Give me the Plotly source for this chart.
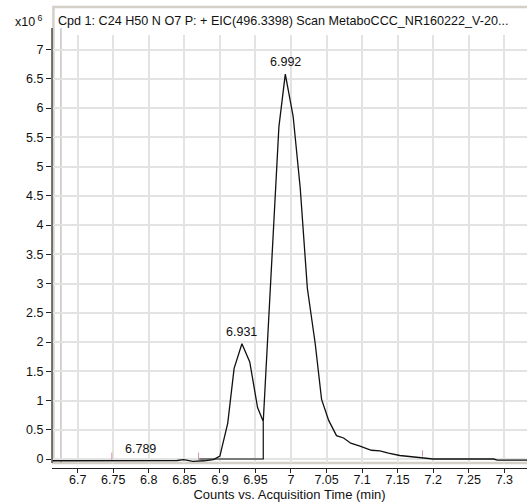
import plotly.graph_objects as go

# ---- data (intensity in x10^6 counts) ----
time_min = [6.665, 6.700, 6.750, 6.800, 6.840, 6.849, 6.862, 6.878, 6.891, 6.900,
            6.911, 6.920, 6.931, 6.942, 6.953, 6.961, 6.983, 6.992, 7.003, 7.013,
            7.023, 7.034, 7.043, 7.053, 7.064, 7.074, 7.084, 7.097, 7.113, 7.125,
            7.137, 7.153, 7.179, 7.200, 7.285, 7.290, 7.332]
counts_e6 = [-0.03, -0.03, -0.03, -0.03, -0.025, -0.01, -0.04, -0.03, -0.01, 0.05,
             0.61, 1.55, 1.97, 1.66, 0.88, 0.64, 5.68, 6.58, 5.86, 4.63,
             2.92, 1.98, 1.02, 0.66, 0.40, 0.36, 0.27, 0.22, 0.15, 0.14,
             0.10, 0.06, 0.03, 0.00, 0.00, -0.02, -0.02]

# integration baseline of the first peak
base_x = [6.871, 6.961, 6.961]
base_y = [0.0, 0.0, 0.64]

# peak start / end markers
mark_x = [6.748, 6.870, 7.185]
mark_lo = [-0.02, -0.02, 0.04]
mark_hi = [0.11, 0.11, 0.15]

# peak labels
peak_x = [6.789, 6.931, 6.992]
peak_y = [-0.03, 1.97, 6.58]
peak_text = ["6.789", "6.931", "6.992"]

x_tick_vals = [6.7, 6.75, 6.8, 6.85, 6.9, 6.95, 7.0, 7.05, 7.1, 7.15, 7.2, 7.25, 7.3]
x_tick_text = ["6.7", "6.75", "6.8", "6.85", "6.9", "6.95", "7", "7.05", "7.1", "7.15", "7.2", "7.25", "7.3"]
y_tick_vals = [0, 0.5, 1, 1.5, 2, 2.5, 3, 3.5, 4, 4.5, 5, 5.5, 6, 6.5, 7]
y_tick_text = ["0", "0.5", "1", "1.5", "2", "2.5", "3", "3.5", "4", "4.5", "5", "5.5", "6", "6.5", "7"]

title_text = "Cpd 1: C24 H50 N O7 P: + EIC(496.3398) Scan MetaboCCC_NR160222_V-20..."
x_title = "Counts vs. Acquisition Time (min)"

FONT = "Liberation Sans, Arial, sans-serif"

fig = go.Figure()

# marker segments
mx, my = [], []
for x, lo, hi in zip(mark_x, mark_lo, mark_hi):
    mx += [x, x, None]
    my += [lo, hi, None]
fig.add_trace(go.Scatter(x=mx, y=my, mode="lines",
                         line=dict(color="#d9959b", width=1), hoverinfo="skip"))

fig.add_trace(go.Scatter(x=base_x, y=base_y, mode="lines",
                         line=dict(color="#111111", width=1.2), hoverinfo="skip"))

fig.add_trace(go.Scatter(x=time_min, y=counts_e6, mode="lines",
                         line=dict(color="#111111", width=1.3)))

for x, y, t in zip(peak_x, peak_y, peak_text):
    fig.add_annotation(x=x, y=y, text=t, showarrow=False, yanchor="bottom",
                       yshift=3, font=dict(family=FONT, size=12.5, color="#111"))

# frame around the panel
fig.add_shape(type="rect", xref="paper", yref="paper",
              x0=0.003, x1=1.01, y0=0.0115, y1=1.0647,
              line=dict(color="#d4d0c8", width=2.5), layer="below")
# vertical gray line near the left edge
fig.add_shape(type="line", xref="x", yref="paper", x0=6.6765, x1=6.6765,
              y0=0.0115, y1=1.016, line=dict(color="#a8a8a8", width=1), layer="below")
# y axis line (extends above the plot area)
fig.add_shape(type="line", xref="paper", yref="paper", x0=0, x1=0,
              y0=0.0115, y1=1.016, line=dict(color="#222", width=1.2))

fig.add_annotation(xref="paper", yref="paper", x=(56 - 52) / 475, y=(468 - 21) / 433,
                   text=title_text, showarrow=False, xanchor="left", yanchor="middle",
                   font=dict(family=FONT, size=12.6, color="#111"))
fig.add_annotation(xref="paper", yref="paper", x=(45 - 52) / 475, y=(468 - 21) / 433,
                   text="x10<sup> 6</sup>", showarrow=False, xanchor="right", yanchor="middle",
                   font=dict(family=FONT, size=12.5, color="#111"))

fig.update_layout(
    width=527, height=503,
    margin=dict(l=52, r=0, t=35, b=35, autoexpand=False),
    paper_bgcolor="white", plot_bgcolor="white",
    showlegend=False,
    font=dict(family=FONT, size=12.5, color="#111"),
    xaxis=dict(range=[6.6639, 7.3319], tickvals=x_tick_vals, ticktext=x_tick_text,
               showgrid=True, gridcolor="#e3e3e3", gridwidth=1.5, zeroline=False,
               showline=True, linecolor="#222", linewidth=1.2,
               ticks="outside", ticklen=4, tickcolor="#222",
               ticklabelstandoff=-4,
               anchor="free", position=0, automargin=False,
               title=dict(text=x_title, font=dict(family=FONT, size=13), standoff=0)),
    yaxis=dict(range=[-0.0684, 7.25], domain=[0.0115, 1], tickvals=y_tick_vals,
               ticktext=y_tick_text, showgrid=True, gridcolor="#e3e3e3", gridwidth=1.5,
               zeroline=False, showline=False, automargin=False,
               ticks="outside", ticklen=5, tickcolor="#222"),
)

fig.write_html("out.html", config={"displayModeBar": False},
               post_script="document.body.style.margin='0';document.body.style.overflow='hidden';")
